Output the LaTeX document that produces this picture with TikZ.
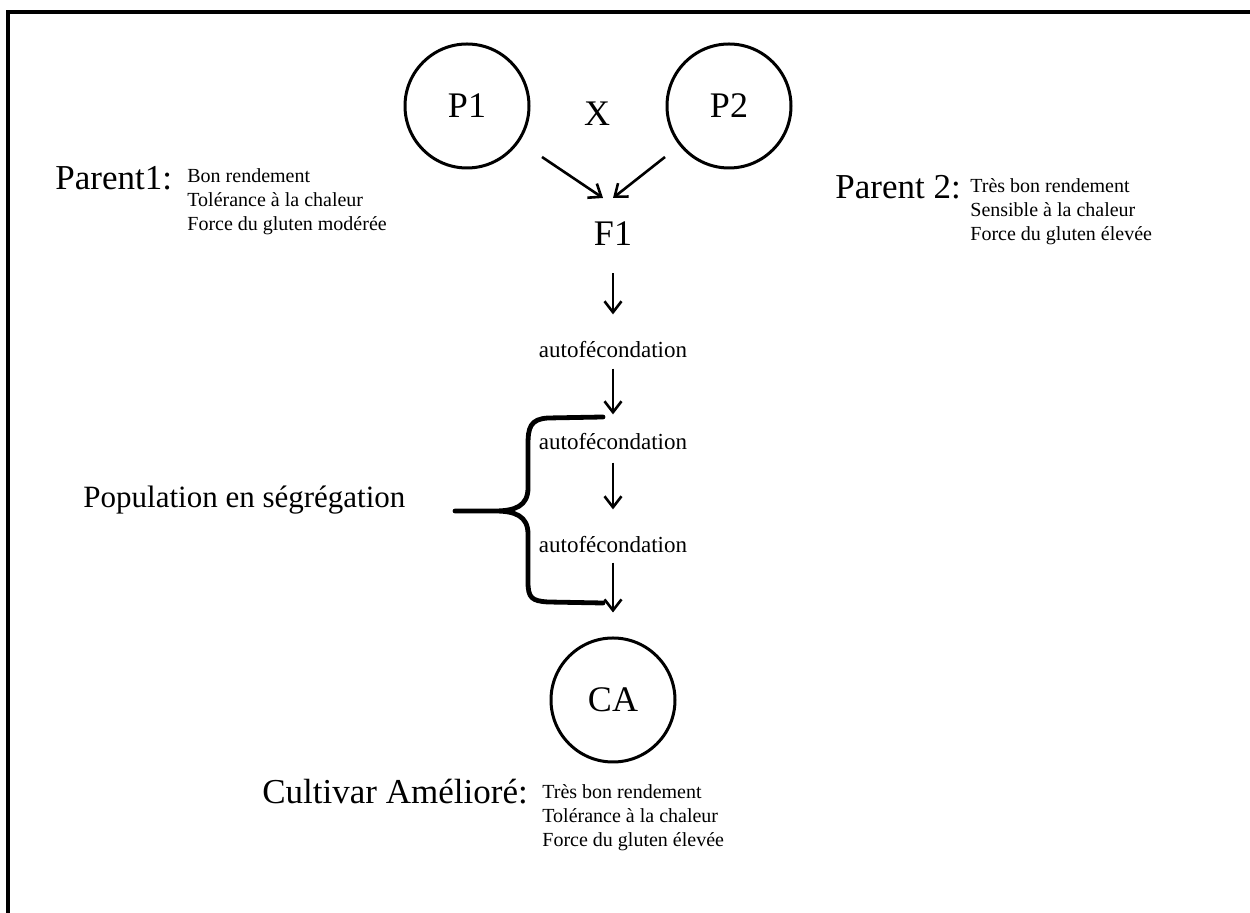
\documentclass[tikz,border=0pt]{standalone}
\usepackage{fontspec}
\setmainfont{Liberation Serif}
\usetikzlibrary{arrows.meta}

\begin{document}
\begin{tikzpicture}[x=0.5pt,y=-0.5pt,
    plant/.style={draw,circle,line width=1.5pt,minimum size=62pt,inner sep=0pt,font=\fontsize{18}{21}\selectfont},
    big/.style={inner sep=0pt,font=\fontsize{17.5}{21}\selectfont},
    trait/.style={inner sep=0pt,anchor=west,align=left,font=\fontsize{10}{12}\selectfont},
    selfing/.style={inner sep=0pt,font=\fontsize{11.5}{14}\selectfont},
    arr/.style={-{Straight Barb[length=5.5pt,width=8.5pt]},line width=1.3pt}]
    \useasboundingbox (0,0) rectangle (1250,913);
    \draw[line width=1.7pt] (8,913) -- (8,12) -- (1250,12);

      \node (p1) at (467,106) [plant] {P1};
      \node (p2) at (729,106) [plant] {P2};
      \node (cross) at (597,114) [big,font=\fontsize{18}{21}\selectfont] {X};
      \node (f1) at (613,234) [big,font=\fontsize{18}{21}\selectfont] {F1};
      \node (af1) at (613,350) [selfing] {autofécondation};
      \node (af2) at (613,442) [selfing] {autofécondation};
      \node (af3) at (613,545) [selfing] {autofécondation};
      \node (ca) at (613,700) [plant] {CA};

      \node (par1) at (55,178) [big,anchor=west] {Parent1:};
      \node (tr1) at (187,202) [trait] {Bon rendement\\Tolérance à la chaleur\\Force du gluten modérée};
      \node (par2) at (835,187) [big,anchor=west] {Parent 2:};
      \node (tr2) at (970,212) [trait] {Très bon rendement\\Sensible à la chaleur\\Force du gluten élevée};
      \node (cult) at (262,792) [big,anchor=west] {Cultivar Amélioré:};
      \node (tr3) at (542,818) [trait] {Très bon rendement\\Tolérance à la chaleur\\Force du gluten élevée};
      \node (pop) at (83,500) [big,anchor=west,font=\fontsize{15.5}{19}\selectfont] {Population en ségrégation};

      \coordinate (p1out) at (542,157);
      \coordinate (p2out) at (665,157);
      \coordinate (f1inl) at (603,198);
      \coordinate (f1inr) at (613,198);
      \coordinate (brtop) at (603,417);
      \coordinate (brtip) at (455,511);
      \coordinate (brbot) at (603,603);

    \draw[arr]
    (p1out) -- (f1inl);
    \draw[arr]
    (p2out) -- (f1inr);
    \draw[arr,shorten <=13.5pt,shorten >=13.5pt] (f1) -- (af1);
    \draw[arr,shorten <=5pt,shorten >=9.5pt] (af1) -- (af2);
    \draw[arr,shorten <=6pt,shorten >=13.5pt] (af2) -- (af3);
    \draw[arr,shorten <=4.5pt,shorten >=12pt] (af3) -- (ca);

    \draw[line width=2.4pt,line cap=round]
    (brtop) -- (548,418) .. controls (530,419) and (528,428) .. (528,445)
    -- (528,488) .. controls (528,506) and (515,511) .. (495,511) -- (brtip)
    (brtip) -- (495,511) .. controls (515,511) and (528,516) .. (528,534)
    -- (528,582) .. controls (528,598) and (532,601) .. (548,602) -- (brbot);
\end{tikzpicture}
\end{document}
